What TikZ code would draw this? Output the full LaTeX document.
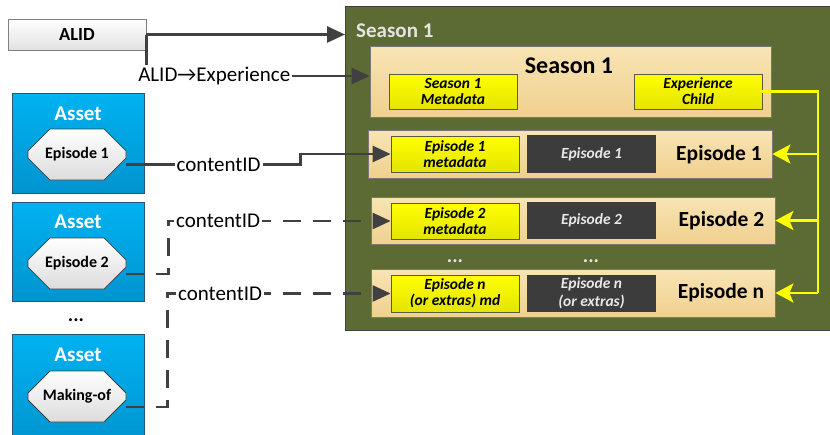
\documentclass[tikz,border=0pt]{standalone}
\usepackage{fontspec}
\setmainfont{Carlito}
\usetikzlibrary{arrows.meta,shapes.misc}
\definecolor{cLine}{RGB}{64,64,64}
\definecolor{cOlive}{RGB}{92,106,52}
\definecolor{cTanT}{RGB}{248,228,180}
\definecolor{cTanB}{RGB}{240,208,142}
\definecolor{cTanD}{RGB}{120,120,120}
\definecolor{cYelT}{RGB}{255,255,0}
\definecolor{cYelB}{RGB}{228,228,0}
\definecolor{cYelD}{RGB}{90,90,60}
\definecolor{cDark}{RGB}{60,60,60}
\definecolor{cDarkT}{RGB}{232,232,232}
\definecolor{cBlueT}{RGB}{0,178,240}
\definecolor{cBlueB}{RGB}{0,148,208}
\definecolor{cBlueD}{RGB}{40,85,115}
\definecolor{cOctB}{RGB}{220,220,220}
\definecolor{cAlidB}{RGB}{225,225,225}
\definecolor{cSeasonT}{RGB}{228,228,228}
\newcommand\fsz[2]{\fontsize{#1}{#2}\selectfont}
\tikzset{
  outerbox/.style={draw=cLine, line width=0.8pt, fill=cOlive, inner sep=0pt},
  tanbox/.style={draw=cTanD, line width=0.8pt, top color=cTanT, bottom color=cTanB, inner sep=0pt},
  yelbox/.style={draw=cYelD, line width=0.8pt, top color=cYelT, bottom color=cYelB, inner sep=0pt,
    minimum width=128pt, minimum height=36pt, align=center, font=\fsz{15.5}{16}\bfseries\itshape},
  darkbox/.style={fill=cDark, inner sep=0pt, minimum width=129pt, minimum height=37pt,
    text=cDarkT, align=center, font=\fsz{15.5}{18}\bfseries\itshape},
  eplbl/.style={font=\fsz{21.5}{24}\bfseries, inner sep=0pt},
  assetbox/.style={draw=cBlueD, line width=0.8pt, top color=cBlueT, bottom color=cBlueB,
    minimum width=132pt, anchor=north west, inner sep=0pt},
  assetlbl/.style={text=white, font=\fsz{21}{24}\bfseries, inner sep=0pt},
  octbox/.style={chamfered rectangle, chamfered rectangle xsep=15pt, chamfered rectangle ysep=15pt,
    draw=cLine, line width=0.8pt, top color=white, bottom color=cOctB,
    minimum width=98pt, minimum height=51pt, inner sep=0pt, font=\fsz{16}{18}\bfseries},
  conn/.style={draw=cLine, line width=2.8pt, -{Triangle[length=18pt,width=16pt]}},
  dconn/.style={conn, dash pattern=on 18pt off 12pt},
  lbl/.style={fill=white, inner sep=2pt, font=\fsz{21}{24}},
  yline/.style={draw=cYelT, line width=2.8pt},
  yarrow/.style={yline, -{Stealth[length=18pt,width=19pt,inset=4pt]}},
  dotsw/.style={text=cDarkT, font=\fsz{20}{22}\bfseries, inner sep=0pt, anchor=base},
  dotsb/.style={text=black, font=\fsz{20}{22}\bfseries, inner sep=0pt, anchor=base}
}
\begin{document}
\begin{tikzpicture}[x=1pt,y=-1pt]
\useasboundingbox (0,0) rectangle (830,434);

% ALID
\node[draw=gray, line width=0.8pt, top color=white, bottom color=cAlidB, minimum width=138pt,
  minimum height=31pt, inner sep=0pt, font=\fsz{18.5}{20}\bfseries] (alid) at (77,34.5) {ALID};

% Season outer box
\node[outerbox, minimum width=490pt, minimum height=324pt, anchor=north west] (season) at (345,6) {};
\node[anchor=west, inner sep=0pt, text=cSeasonT, font=\fsz{21}{24}\bfseries] (seasonlbl) at (356,31) {Season 1};

% Season 1 inner
\node[tanbox, minimum width=401pt, minimum height=71pt] (s1box) at (570.5,81.5) {};
\node[inner sep=0pt, font=\fsz{24}{28}\bfseries] (s1title) at (569,66) {Season 1};
\node[yelbox, minimum height=35pt] (s1meta) at (453,91.5) {Season 1\\Metadata};
\node[yelbox, minimum height=35pt] (expchild) at (698,91.5) {Experience\\Child};

% Episode 1
\node[tanbox, minimum width=404pt, minimum height=48pt] (ep1row) at (570,154) {};
\node[yelbox] (ep1meta) at (455,154) {Episode 1\\metadata};
\node[darkbox, minimum height=38pt] (ep1dark) at (591.5,154) {Episode 1};
\node[eplbl] (ep1lbl) at (719,155) {Episode 1};

% Episode 2
\node[tanbox, minimum width=404pt, minimum height=47pt] (ep2row) at (573,220.5) {};
\node[yelbox] (ep2meta) at (455,221) {Episode 2\\metadata};
\node[darkbox] (ep2dark) at (591.5,220.5) {Episode 2};
\node[eplbl] (ep2lbl) at (721.5,221) {Episode 2};

\node[dotsw] (sdots1) at (455,262) {...};
\node[dotsw] (sdots2) at (591,262) {...};

% Episode n
\node[tanbox, minimum width=404pt, minimum height=48pt] (epnrow) at (573,293) {};
\node[yelbox, minimum height=37pt] (epnmeta) at (455,293.5) {Episode n\\(or extras) md};
\node[darkbox] (epndark) at (591.5,293.5) {Episode n\\(or extras)};
\node[eplbl] (epnlbl) at (721,293) {Episode n};

% Assets
\node[assetbox, minimum height=100pt] (asset1) at (12,93) {};
\node[assetlbl] (asset1lbl) at (78,114) {Asset};
\node[octbox] (oct1) at (77,154.5) {Episode 1};

\node[assetbox, minimum height=99pt] (asset2) at (12,202) {};
\node[assetlbl] (asset2lbl) at (78,221.5) {Asset};
\node[octbox] (oct2) at (77,263.5) {Episode 2};

\node[dotsb] (adots) at (76,321) {...};

\node[assetbox, minimum height=112pt] (asset3) at (12,334) {};
\node[assetlbl] (asset3lbl) at (78,355) {Asset};
\node[octbox] (oct3) at (77,396.5) {Making-of};

% Connectors
\draw[conn] (alid.east) -- (alid.east -| season.west);
\draw[conn] (alid.east) |- node[lbl, pos=0.652] (alidexp) {ALID→Experience} ([yshift=5.5pt]s1box.west);

\draw[conn] ([yshift=-10pt]oct1.east) -- node[lbl, pos=0.53] (cid1) {contentID} ++(174,0) |- (ep1meta.west);
\draw[dconn] ([yshift=-10.5pt]oct2.east) -- ++(42,0) |- node[lbl, pos=0.612] (cid2) {contentID} (ep2meta.west);
\draw[dconn] ([yshift=-10.5pt]oct3.east) -- ++(41,0) |- node[lbl, pos=0.618] (cid3) {contentID} (epnmeta.west);

% Yellow connectors
\coordinate (ybus) at (818,0);
\draw[yline] (expchild.east) -- (expchild.east -| ybus) -- (epnrow.east -| ybus);
\draw[yarrow] (ep1row.east -| ybus) -- (ep1row.east);
\draw[yarrow] (ep2row.east -| ybus) -- (ep2row.east);
\draw[yarrow] (epnrow.east -| ybus) -- (epnrow.east);
\end{tikzpicture}
\end{document}
